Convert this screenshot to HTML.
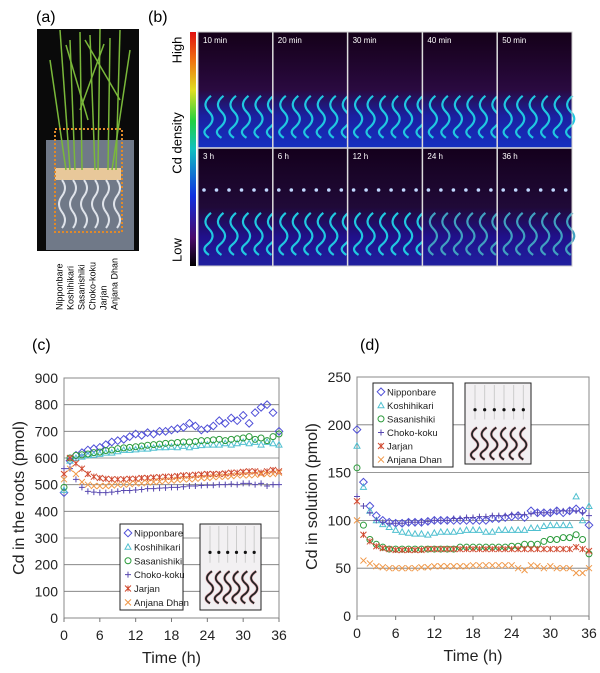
<!DOCTYPE html>
<html><head><meta charset="utf-8">
<style>
html,body{margin:0;padding:0;background:#fff;}
body{width:600px;height:673px;overflow:hidden;position:relative;font-family:"Liberation Sans",Arial,sans-serif;}
svg{position:absolute;left:0;top:0;}
</style></head>
<body>
<svg id="fig" width="600" height="673" viewBox="0 0 600 673" xmlns="http://www.w3.org/2000/svg">
<defs>
<linearGradient id="cbar" x1="0" y1="1" x2="0" y2="0">
<stop offset="0" stop-color="#000"/><stop offset="0.12" stop-color="#4a0a6a"/><stop offset="0.3" stop-color="#1030e0"/><stop offset="0.5" stop-color="#10c0c0"/><stop offset="0.62" stop-color="#20d040"/><stop offset="0.75" stop-color="#e0e020"/><stop offset="0.88" stop-color="#f07010"/><stop offset="1" stop-color="#e01010"/>
</linearGradient>
<linearGradient id="pbg" x1="0" y1="0" x2="0" y2="1">
<stop offset="0" stop-color="#140018"/><stop offset="0.5" stop-color="#2a0a40"/><stop offset="0.72" stop-color="#1a20a0"/><stop offset="1" stop-color="#1530c0"/>
</linearGradient>
<linearGradient id="pbg2" x1="0" y1="0" x2="0" y2="1">
<stop offset="0" stop-color="#14001c"/><stop offset="0.5" stop-color="#200a38"/><stop offset="0.75" stop-color="#20108a"/><stop offset="1" stop-color="#2020a0"/>
</linearGradient>
</defs>
<text x="36" y="22" font-size="16">(a)</text>
<text x="148" y="22" font-size="16">(b)</text>
<g id="photo">
<rect x="37" y="29" width="102" height="222" fill="#0a0a0a"/>
<rect x="46" y="140" width="88" height="110" fill="#8a95a8" opacity="0.8"/>
<rect x="55" y="168" width="66" height="12" fill="#e8c89a"/>
</g>
<text x="178" y="50" font-size="13" text-anchor="middle" transform="rotate(-90 178 50)" dominant-baseline="middle">High</text>
<text x="178" y="143" font-size="13" text-anchor="middle" transform="rotate(-90 178 143)" dominant-baseline="middle">Cd density</text>
<text x="178" y="250" font-size="13" text-anchor="middle" transform="rotate(-90 178 250)" dominant-baseline="middle">Low</text>
<rect x="190" y="32" width="6" height="234" fill="url(#cbar)"/>
<g id="panels"></g>
<g id="chartC"></g>
<g id="chartD"></g>
<text x="32" y="350" font-size="16">(c)</text>
<text x="360" y="350" font-size="16">(d)</text>
</svg>
<script>
// ---- chart (c) data: Cd in the roots (pmol), hourly 0..36 h
const hours = [0,1,2,3,4,5,6,7,8,9,10,11,12,13,14,15,16,17,18,19,20,21,22,23,24,25,26,27,28,29,30,31,32,33,34,35,36];
const varieties = ["Nipponbare","Koshihikari","Sasanishiki","Choko-koku","Jarjan","Anjana Dhan"];
const xTicks = [0,6,12,18,24,30,36];
const rootTicks = [0,100,200,300,400,500,600,700,800,900];
const solTicks = [0,50,100,150,200,250];
const rootNipponbare = [470,590,610,620,630,635,640,650,660,665,670,680,690,685,695,690,700,700,705,710,715,730,720,705,710,720,740,730,750,740,760,730,770,790,800,770,700];
const rootKoshihikari = [480,590,600,605,610,612,615,620,620,625,630,630,632,635,635,638,640,640,642,640,645,640,645,648,650,650,650,655,650,655,660,655,660,650,660,655,650];
const rootSasanishiki = [490,600,610,612,615,620,622,628,630,635,638,640,642,645,648,650,652,655,656,658,660,660,662,665,665,668,670,665,670,672,675,680,670,675,665,680,690];
const rootChokokoku = [560,560,520,490,475,472,470,470,472,475,478,478,480,482,485,485,487,488,490,490,492,495,495,497,498,498,500,500,502,500,505,505,500,505,495,500,500];
const rootJarjan = [540,600,580,560,540,530,525,522,520,520,520,522,522,525,525,527,528,530,530,532,535,535,537,538,540,540,540,542,545,545,548,550,550,545,550,555,550];
const rootAnjana = [520,560,540,510,500,495,495,495,497,500,500,502,505,505,508,510,512,515,515,518,520,520,522,525,525,528,530,530,532,535,535,535,537,540,540,540,545];
// ---- chart (d) data: Cd in solution (pmol)
const solNipponbare = [195,140,115,105,100,98,97,97,98,98,98,99,100,100,100,100,100,100,100,100,100,102,102,103,104,105,103,110,108,108,108,110,108,110,112,110,95];
const solKoshihikari = [178,135,110,100,96,93,90,88,87,86,86,85,87,88,88,88,89,90,90,90,88,88,90,90,90,90,90,92,92,94,95,95,95,95,125,100,115];
const solSasanishiki = [155,95,80,75,72,70,70,70,70,70,70,70,70,70,70,70,72,72,72,72,72,72,72,72,73,73,75,75,75,78,80,80,82,82,85,80,65];
const solChokokoku = [125,115,108,100,98,97,97,97,98,98,98,99,100,100,100,102,102,103,103,104,104,105,105,105,106,106,106,107,108,108,108,110,110,110,110,108,105];
const solJarjan = [120,85,78,73,71,70,69,69,69,69,69,70,70,70,70,70,70,70,70,70,70,70,70,70,70,70,70,70,70,70,70,70,70,70,72,70,68];
const solAnjana = [100,58,55,52,51,50,50,50,50,50,51,51,52,52,52,52,52,52,53,53,53,53,53,53,53,50,48,53,52,50,52,50,50,50,45,45,50];

const NS="http://www.w3.org/2000/svg";
function mk(tag,attrs,parent){const e=document.createElementNS(NS,tag);for(const k in attrs)e.setAttribute(k,attrs[k]);if(parent)parent.appendChild(e);return e;}

// ----- photo (a) decoration
const photo=document.getElementById('photo');
[[60,30,70,170],[70,40,75,170],[80,32,82,170],[90,35,95,170],[100,29,98,170],[110,38,108,170],[120,30,116,170],[50,60,66,170],[130,50,112,170],[66,45,88,120],[104,44,80,110],[85,40,120,100]].forEach(l=>{
 mk('line',{x1:l[0],y1:l[1],x2:l[2],y2:l[3],stroke:'#7ab83a','stroke-width':1.5},photo);
});
for(let i=0;i<6;i++){const x=62+i*11;mk('path',{d:`M${x} 180 q6 8 0 16 q-6 8 0 16 q6 8 0 16`,fill:'none',stroke:'#dfe3ea','stroke-width':2},photo);}
mk('rect',{x:55,y:129,width:67,height:103,fill:'none',stroke:'#e08a2a','stroke-width':2,'stroke-dasharray':'2 2'},photo);
const names=["Nipponbare","Koshihikari","Sasanishiki","Choko-koku","Jarjan","Anjana Dhan"];
names.forEach((n,i)=>{const x=60+i*11,y=310;const t=mk('text',{x:x,y:y,'font-size':9,transform:`rotate(-90 ${x} ${y})`,'dominant-baseline':'middle'},photo);t.textContent=n;

});

// ----- panels (b)
const panels=document.getElementById('panels');
const labs=[["10 min","20 min","30 min","40 min","50 min"],["3 h","6 h","12 h","24 h","36 h"]];
const colX=[198,272.8,347.6,422.4,497.2];const pw=74.8;
for(let r=0;r<2;r++){for(let c=0;c<5;c++){
 const x=colX[c],y=r?148:32,h=r?118:116;
 const g=mk('g',{},panels);
 
 
 mk('rect',{x:x,y:y,width:pw,height:h,fill:(r? 'url(#pbg2)':'url(#pbg)')},g);
 if(r){for(let k=0;k<6;k++){mk('circle',{cx:x+6+k*12.5,cy:y+42,r:1.8,fill:'#c0d8ff'},g);}}
 for(let k=0;k<6;k++){const sx=x+8+k*12.5,sy=y+h*0.55;
  mk('path',{d:`M${sx+5} ${sy} q-10 8 -2 16 q8 8 -2 16 q-6 5 2 10`,fill:'none',stroke:(c>2&&r?'#40a0c0':'#20c8e0'),'stroke-width':2.2},g);}
 const t=mk('text',{x:x+5,y:y+11,'font-size':8,fill:'#fff'},g);t.textContent=labs[r][c];
 
 
}}
mk('line',{x1:198,y1:148,x2:572,y2:148,stroke:'#ddd','stroke-width':1.5},panels);
colX.slice(1).forEach(x=>mk('line',{x1:x,y1:32,x2:x,y2:266,stroke:'#ddd','stroke-width':1.5},panels));
mk('rect',{x:198,y:32,width:374,height:234,fill:'none',stroke:'#ccc','stroke-width':1},panels);

// ----- marker drawing
const styles=[{c:'#5050d8',m:'diamond'},{c:'#50c0d0',m:'tri'},{c:'#2a9a3a',m:'circle'},{c:'#5848b0',m:'plus'},{c:'#d04a30',m:'star'},{c:'#f09848',m:'x'}];
function marker(g,m,x,y,col){const s=3;
 if(m==='diamond')return mk('path',{d:`M${x} ${y-s-0.8}L${x+s+0.8} ${y}L${x} ${y+s+0.8}L${x-s-0.8} ${y}Z`,fill:'none',stroke:col,'stroke-width':1},g);
 if(m==='tri')return mk('path',{d:`M${x} ${y-s}L${x+s} ${y+s*0.8}L${x-s} ${y+s*0.8}Z`,fill:'none',stroke:col,'stroke-width':1},g);
 if(m==='circle')return mk('circle',{cx:x,cy:y,r:s,fill:'none',stroke:col,'stroke-width':1},g);
 if(m==='plus')return mk('path',{d:`M${x-s} ${y}H${x+s}M${x} ${y-s}V${y+s}`,stroke:col,'stroke-width':1},g);
 if(m==='star')return mk('path',{d:`M${x-s} ${y-s}L${x+s} ${y+s}M${x-s} ${y+s}L${x+s} ${y-s}M${x} ${y-s}V${y+s}`,stroke:col,'stroke-width':1},g);
 return mk('path',{d:`M${x-s} ${y-s}L${x+s} ${y+s}M${x-s} ${y+s}L${x+s} ${y-s}`,stroke:col,'stroke-width':1},g);
}

function chart(gid,box,ymax,yTicks,series,ytitle,legendBox,insetBox){
 const g=document.getElementById(gid);
 const X=v=>box.l+(v/36)*(box.r-box.l);
 const Y=v=>box.b-(v/ymax)*(box.b-box.t);
 mk('rect',{x:box.l,y:box.t,width:box.r-box.l,height:box.b-box.t,fill:'#fff',stroke:'#888','stroke-width':1},g);
 yTicks.forEach(t=>{if(t>0&&t<ymax)mk('line',{x1:box.l,y1:Y(t),x2:box.r,y2:Y(t),stroke:'#777','stroke-width':0.8},g);
  const tx=mk('text',{x:box.l-6,y:Y(t)+5,'font-size':14,'text-anchor':'end',fill:'#222'},g);tx.textContent=t;
  
  });
 xTicks.forEach(t=>{mk('line',{x1:X(t),y1:box.b,x2:X(t),y2:box.b+4,stroke:'#777'},g);
  const tx=mk('text',{x:X(t),y:box.b+22,'font-size':14,'text-anchor':'middle',fill:'#222'},g);tx.textContent=t;
  
  });
 const xt=mk('text',{x:(box.l+box.r)/2,y:box.b+45,'font-size':16,'text-anchor':'middle',fill:'#222'},g);xt.textContent='Time (h)';
 
 
 const yx=box.l-44,yy=(box.t+box.b)/2;
 const yt=mk('text',{x:yx,y:yy,'font-size':16,'text-anchor':'middle','dominant-baseline':'middle',transform:`rotate(-90 ${yx} ${yy})`,fill:'#222'},g);yt.textContent=ytitle;
 
 
 series.forEach((s,i)=>{const sg=mk('g',{},g);
  
  
  s.forEach((v,j)=>{const m=marker(sg,styles[i].m,X(hours[j]),Y(v),styles[i].c);
   
   });});
 // legend
 const lg=mk('g',{},g);
 
 
 mk('rect',{x:legendBox.x,y:legendBox.y,width:legendBox.w,height:legendBox.h,fill:'#fff',stroke:'#222','stroke-width':1},lg);
 const step=legendBox.h/6.2;
 varieties.forEach((n,i)=>{const yy=legendBox.y+step*(i+0.65);
  marker(lg,styles[i].m,legendBox.x+8,yy,styles[i].c);
  const t=mk('text',{x:legendBox.x+14,y:yy+3.5,'font-size':9.5,fill:'#222'},lg);t.textContent=n;
  
  });
 // inset image
 const ig=mk('g',{},g);
 
 
 mk('rect',{x:insetBox.x,y:insetBox.y,width:insetBox.w,height:insetBox.h,fill:'#f2f0f2',stroke:'#222','stroke-width':1},ig);
 for(let k=0;k<6;k++){const sx=insetBox.x+6+k*(insetBox.w-8)/6;
  mk('line',{x1:sx+4,y1:insetBox.y+2,x2:sx+4,y2:insetBox.y+insetBox.h*0.45,stroke:'#ccc','stroke-width':1},ig);
  mk('circle',{cx:sx+4,cy:insetBox.y+insetBox.h*0.33,r:1.6,fill:'#111'},ig);
  const by=insetBox.y+insetBox.h*0.55;
  mk('path',{d:`M${sx+6} ${by} q-9 6 -2 12 q7 6 -2 12 q-5 4 2 8`,fill:'none',stroke:'#e0a8b0','stroke-width':3},ig);
  mk('path',{d:`M${sx+6} ${by} q-9 6 -2 12 q7 6 -2 12 q-5 4 2 8`,fill:'none',stroke:'#222','stroke-width':1.8},ig);}
}
chart('chartC',{l:64,r:279,t:378,b:618},900,rootTicks,[rootNipponbare,rootKoshihikari,rootSasanishiki,rootChokokoku,rootJarjan,rootAnjana],'Cd in the roots (pmol)',{x:120,y:524,w:63,h:86},{x:200,y:524,w:61,h:86});
chart('chartD',{l:357,r:589,t:377,b:616},250,solTicks,[solNipponbare,solKoshihikari,solSasanishiki,solChokokoku,solJarjan,solAnjana],'Cd in solution  (pmol)',{x:373,y:383,w:80,h:84},{x:465,y:383,w:66,h:81});
</script>
</body></html>
